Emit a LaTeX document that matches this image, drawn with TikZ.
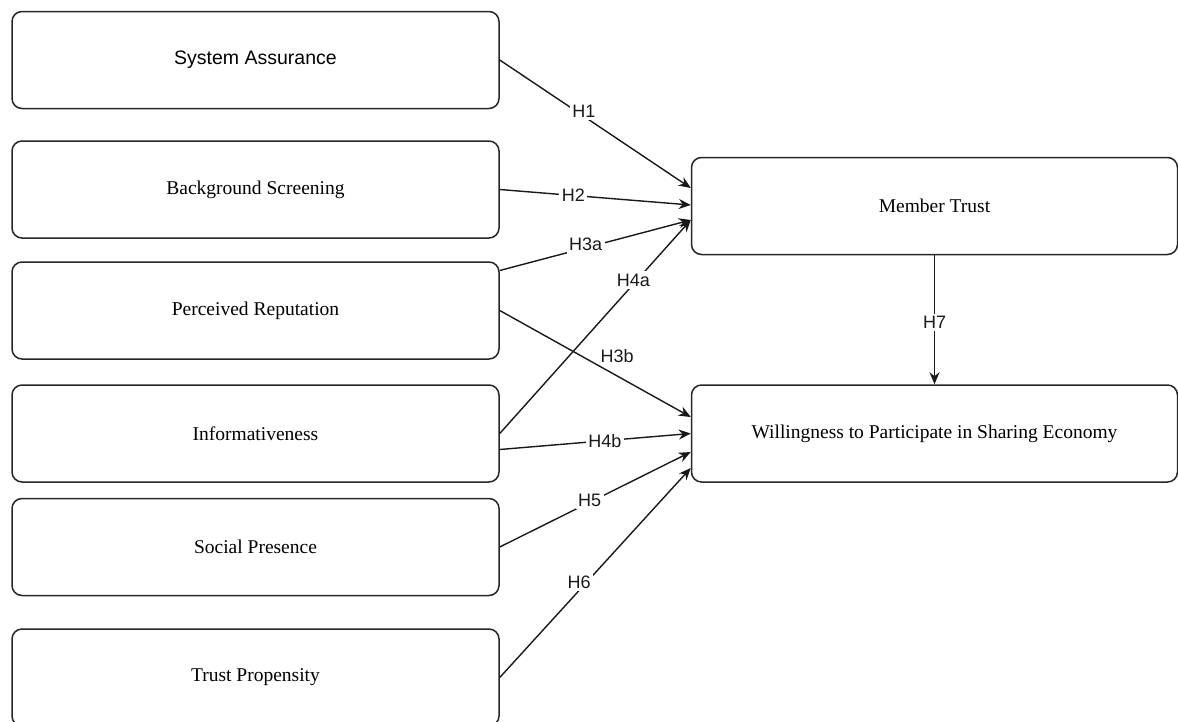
\documentclass[tikz,border=0pt]{standalone}
\usepackage{fontspec}
\setmainfont{Liberation Serif}
\setsansfont{Liberation Sans}
\usetikzlibrary{arrows.meta}
\begin{document}
\begin{tikzpicture}[x=1pt,y=-1pt,
  box/.style={draw=black!85, line width=1.5pt, rounded corners=10pt, minimum width=487pt, minimum height=97pt, inner sep=0pt, font=\fontsize{19.5}{23}\selectfont, text=black},
  conn/.style={draw=black!90, line width=1.4pt, -{Stealth[length=12pt,width=10pt]}},
  lbl/.style={fill=white, inner sep=2.5pt, font=\sffamily\fontsize{18}{20}\selectfont, text=black!90}]
\useasboundingbox (0,0) rectangle (1178,721);
\clip (0,0) rectangle (1178,721);

\node[box, font=\sffamily\fontsize{19.5}{23}\selectfont] (sa) at (255.5,60) {System Assurance};
\node[box] (bs) at (255.5,189.5) {Background Screening};
\node[box] (pr) at (255.5,310.5) {Perceived Reputation};
\node[box] (inf) at (255.5,433.5) {Informativeness};
\node[box] (sp) at (255.5,547) {Social Presence};
\node[box] (tp) at (255.5,677.5) {Trust Propensity};
\node[box, minimum width=486pt] (mt) at (934.5,206) {Member Trust};
\node[box, minimum width=486pt] (wp) at (934.5,433.5) {Willingness to Participate in Sharing Economy};

\draw[conn] (sa.east) -- node[lbl, pos=0.44, yshift=5pt]{H1} ([yshift=18pt]mt.west);
\draw[conn] (bs.east) -- node[lbl, pos=0.385]{H2} ([yshift=1pt]mt.west);
\draw[conn] ([yshift=40pt]pr.east) -- node[lbl, pos=0.45, yshift=3pt]{H3a} ([yshift=-14pt]mt.west);
\draw[conn] (inf.east) -- node[lbl, pos=0.70, yshift=4pt]{H4a} ([yshift=-14pt]mt.west);
\draw[conn] (pr.east) -- node[pos=0.615, yshift=20pt, inner sep=0pt, font=\sffamily\fontsize{18}{20}\selectfont, text=black!90]{H3b} ([yshift=16.5pt]wp.west);
\draw[conn] ([yshift=-16pt]inf.east) -- node[lbl, pos=0.55]{H4b} (wp.west);
\draw[conn] (sp.east) -- node[lbl, pos=0.47, yshift=2pt]{H5} ([yshift=-18.5pt]wp.west);
\draw[conn] (tp.east) -- node[lbl, pos=0.415, yshift=8pt]{H6} ([yshift=-34.5pt]wp.west);
\draw[conn] (mt.south) -- node[lbl, pos=0.52]{H7} (wp.north);
\end{tikzpicture}
\end{document}
